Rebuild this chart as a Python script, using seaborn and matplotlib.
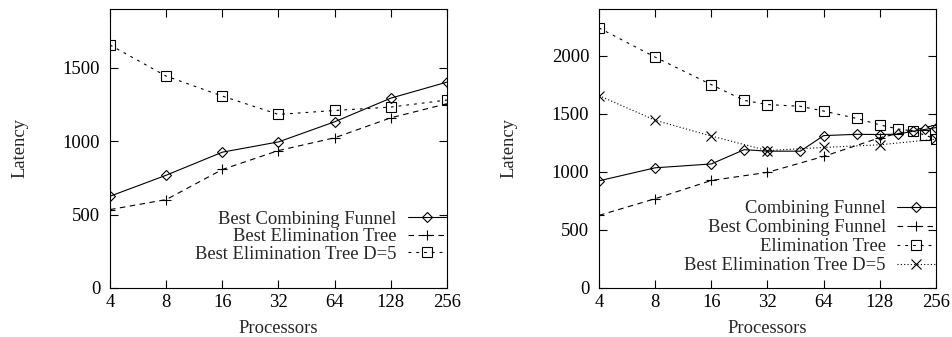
import numpy as np
import pandas as pd
import matplotlib
matplotlib.use("Agg")
import matplotlib.pyplot as plt
import seaborn as sns

# ---- data ----
procs = [4, 8, 16, 32, 64, 128, 256]
procs_fine = [4, 8, 16, 24, 32, 48, 64, 96, 128, 160, 192, 224, 256]

best_funnel = [625, 768, 925, 995, 1132, 1293, 1402]
best_elim = [534, 602, 807, 936, 1023, 1159, 1255]
best_elim_d5 = [1655, 1443, 1307, 1182, 1209, 1232, 1280]

funnel = [922, 1034, 1067, 1190, 1177, 1177, 1311, 1322, 1320, 1324, 1348, 1364, 1380]
elim_tree = [2237, 1986, 1749, 1614, 1578, 1563, 1522, 1459, 1403, 1368, 1351, 1314, 1282]

left_ylim = (0, 1900)
right_ylim = (0, 2400)
yticks = [0, 500, 1000, 1500, 2000]

sns.set_theme(style="white")
plt.rcParams['font.family'] = ['Liberation Serif', 'DejaVu Serif']
plt.rcParams['font.size'] = 13.4

LW = 0.8
solid = '-'
dashed = (0, (5, 4))
shortdash = (0, (2.5, 4.5))
dotted = (0, (1, 2))

fig = plt.figure(figsize=(9.53, 3.37), dpi=100)
ax1 = fig.add_axes([110 / 953, 49 / 337, 337 / 953, 279 / 337])
ax2 = fig.add_axes([599 / 953, 49 / 337, 337 / 953, 279 / 337])


def draw(ax, x, y, label, marker, ls, ms):
    sns.lineplot(x=x, y=y, ax=ax, label=label, color='black', lw=LW,
                 linestyle=ls, marker=marker, markersize=ms,
                 markerfacecolor='none', markeredgecolor='black',
                 markeredgewidth=LW, estimator=None, sort=False)


draw(ax1, procs, best_funnel, 'Best Combining Funnel', 'D', solid, 5.5)
draw(ax1, procs, best_elim, 'Best Elimination Tree', '+', dashed, 7.5)
draw(ax1, procs, best_elim_d5, 'Best Elimination Tree D=5', 's', shortdash, 7)

draw(ax2, procs_fine, funnel, 'Combining Funnel', 'D', solid, 5.5)
draw(ax2, procs, best_funnel, 'Best Combining Funnel', '+', dashed, 7.5)
draw(ax2, procs_fine, elim_tree, 'Elimination Tree', 's', shortdash, 7)
draw(ax2, procs, best_elim_d5, 'Best Elimination Tree D=5', 'x', dotted, 7)

for ax, ylim, lg_y, lsp in [(ax1, left_ylim, 0.09, 0.03), (ax2, right_ylim, 0.05, 0.1)]:
    ax.set_xscale('log', base=2)
    ax.set_xlim(4, 256)
    ax.set_ylim(*ylim)
    ax.set_xticks(procs)
    ax.set_xticklabels([str(p) for p in procs])
    ax.set_yticks([t for t in yticks if t <= ylim[1]])
    ax.minorticks_off()
    ax.tick_params(direction='in', length=6, width=LW, top=True, right=True,
                   bottom=True, left=True, labelsize=13.4, colors='black')
    ax.tick_params(axis='x', pad=4)
    ax.tick_params(axis='y', pad=7)
    for sp in ax.spines.values():
        sp.set_color('black')
        sp.set_linewidth(LW)
    ax.set_xlabel('Processors', fontsize=13.4, labelpad=7)
    ax.set_ylabel('Latency', fontsize=13.4, labelpad=25)
    ax.legend(loc='lower right', bbox_to_anchor=(1.0, lg_y), frameon=False,
              markerfirst=False, handlelength=2.1, handletextpad=0.6,
              labelspacing=lsp, borderpad=0, borderaxespad=0, fontsize=13.4)

fig.savefig('out.png', dpi=100)
